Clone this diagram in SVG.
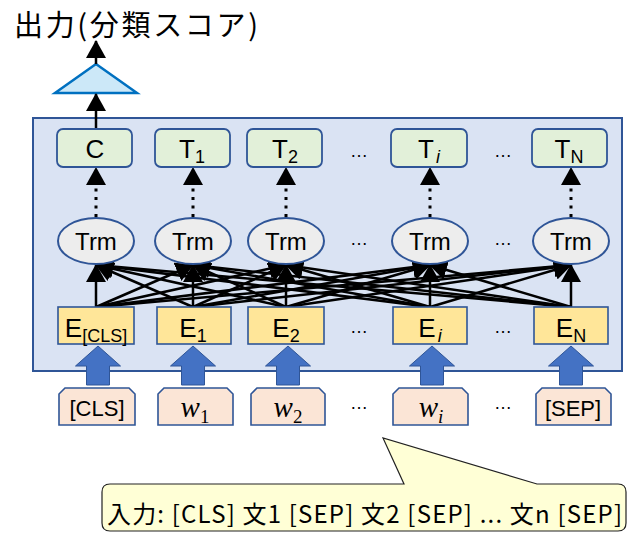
<svg xmlns="http://www.w3.org/2000/svg" width="631" height="535" viewBox="0 0 631 535">
<style>
.lbl{font-family:"Liberation Sans",Arial,sans-serif;fill:#000;text-anchor:middle}
.jp{font-family:"Noto Sans CJK JP","Noto Sans",sans-serif;fill:#000}
.g{fill:#e2f0d9;stroke:#2f5597;stroke-width:1.8}
.t{fill:#ededed;stroke:#2f5597;stroke-width:2}
.e{fill:#ffe699;stroke:#2f5597;stroke-width:1.6}
.w{fill:#fbe5d6;stroke:#2f5597;stroke-width:1.6}
.ba{fill:#4472c4;stroke:#2f5597;stroke-width:1}
.c{stroke:#000;stroke-width:2.5;fill:none;marker-end:url(#ah)}
.d{stroke:#000;stroke-width:3;fill:none;stroke-dasharray:3 5.5;marker-end:url(#ah)}
.dots{font-family:"Liberation Sans",Arial,sans-serif;font-size:18px;text-anchor:middle;fill:#000}
.wv{font-family:"Liberation Serif","Times New Roman",serif;font-style:italic;font-size:29px;text-anchor:middle;fill:#000}
</style>
<defs>
<marker id="ah" viewBox="0 0 18 20" markerWidth="18" markerHeight="20" refX="17" refY="10" orient="auto" markerUnits="userSpaceOnUse">
<path d="M0,0 L18,10 L0,20 z" fill="#000"/>
</marker>
</defs>

<text class="jp" x="14" y="36" font-size="29" textLength="244">出力(分類スコア)</text>

<g id="outer"><rect x="33" y="118" width="589" height="253" fill="#dae3f3" stroke="#2f5597" stroke-width="2"/></g>

<g id="classifier"><polygon points="96,64 55,93 137,93" fill="#cce8f8" stroke="#0070c0" stroke-width="2.5"/></g>

<g id="connectors">
<line class="c" x1="96" y1="129" x2="96" y2="94"/>
<line class="c" x1="96" y1="64" x2="96" y2="41"/>
<line class="d" x1="96" y1="217" x2="96" y2="168"/>
<line class="d" x1="193" y1="217" x2="193" y2="168"/>
<line class="d" x1="286" y1="217" x2="286" y2="168"/>
<line class="d" x1="430" y1="217" x2="430" y2="168"/>
<line class="d" x1="571" y1="217" x2="571" y2="168"/>

<line class="c" x1="96" y1="307" x2="96" y2="265"/>
<line class="c" x1="96" y1="307" x2="193" y2="265"/>
<line class="c" x1="96" y1="307" x2="286" y2="265"/>
<line class="c" x1="96" y1="307" x2="430" y2="265"/>
<line class="c" x1="96" y1="307" x2="571" y2="265"/>
<line class="c" x1="193" y1="307" x2="96" y2="265"/>
<line class="c" x1="193" y1="307" x2="193" y2="265"/>
<line class="c" x1="193" y1="307" x2="286" y2="265"/>
<line class="c" x1="193" y1="307" x2="430" y2="265"/>
<line class="c" x1="193" y1="307" x2="571" y2="265"/>
<line class="c" x1="286" y1="307" x2="96" y2="265"/>
<line class="c" x1="286" y1="307" x2="193" y2="265"/>
<line class="c" x1="286" y1="307" x2="286" y2="265"/>
<line class="c" x1="286" y1="307" x2="430" y2="265"/>
<line class="c" x1="286" y1="307" x2="571" y2="265"/>
<line class="c" x1="430" y1="307" x2="96" y2="265"/>
<line class="c" x1="430" y1="307" x2="193" y2="265"/>
<line class="c" x1="430" y1="307" x2="286" y2="265"/>
<line class="c" x1="430" y1="307" x2="430" y2="265"/>
<line class="c" x1="430" y1="307" x2="571" y2="265"/>
<line class="c" x1="571" y1="307" x2="96" y2="265"/>
<line class="c" x1="571" y1="307" x2="193" y2="265"/>
<line class="c" x1="571" y1="307" x2="286" y2="265"/>
<line class="c" x1="571" y1="307" x2="430" y2="265"/>
<line class="c" x1="571" y1="307" x2="571" y2="265"/>

<path class="ba" d="M86.5,385 V366 H75.5 L98,346 L120.5,366 H109.5 V385 Z"/>
<path class="ba" d="M181.5,385 V366 H170.5 L193,346 L215.5,366 H204.5 V385 Z"/>
<path class="ba" d="M276.5,385 V366 H265.5 L288,346 L310.5,366 H299.5 V385 Z"/>
<path class="ba" d="M420.5,385 V366 H409.5 L432,346 L454.5,366 H443.5 V385 Z"/>
<path class="ba" d="M559.5,385 V366 H548.5 L571,346 L593.5,366 H582.5 V385 Z"/>
</g>

<g id="C"><rect class="g" x="57" y="129" width="75" height="38" rx="6"/><text class="lbl" x="95" y="158" font-size="26">C</text></g>
<g id="T1"><rect class="g" x="155" y="129" width="75" height="38" rx="6"/><text class="lbl" x="192" y="158" font-size="26">T<tspan font-size="18" dy="5">1</tspan></text></g>
<g id="T2"><rect class="g" x="247" y="129" width="75" height="38" rx="6"/><text class="lbl" x="285" y="158" font-size="26">T<tspan font-size="18" dy="5">2</tspan></text></g>
<g id="Ti"><rect class="g" x="391" y="129" width="76" height="38" rx="6"/><text class="lbl" x="429" y="158" font-size="26">T<tspan font-size="18" dy="5" dx="2" font-style="italic">i</tspan></text></g>
<g id="TN"><rect class="g" x="532" y="129" width="75" height="38" rx="6"/><text class="lbl" x="569" y="158" font-size="26">T<tspan font-size="18" dy="5">N</tspan></text></g>

<g id="Trm0"><ellipse class="t" cx="96" cy="241" rx="38" ry="23"/><text class="lbl" x="96" y="250" font-size="24">Trm</text></g>
<g id="Trm1"><ellipse class="t" cx="193" cy="241" rx="38" ry="23"/><text class="lbl" x="193" y="250" font-size="24">Trm</text></g>
<g id="Trm2"><ellipse class="t" cx="286" cy="241" rx="38" ry="23"/><text class="lbl" x="286" y="250" font-size="24">Trm</text></g>
<g id="Trmi"><ellipse class="t" cx="430" cy="241" rx="38" ry="23"/><text class="lbl" x="430" y="250" font-size="24">Trm</text></g>
<g id="TrmN"><ellipse class="t" cx="571" cy="241" rx="38" ry="23"/><text class="lbl" x="571" y="250" font-size="24">Trm</text></g>

<g id="ECLS"><rect class="e" x="58" y="307" width="76" height="37"/><text class="lbl" x="96" y="337" font-size="26">E<tspan font-size="18" dy="5">[CLS]</tspan></text></g>
<g id="E1"><rect class="e" x="157" y="307" width="74" height="37"/><text class="lbl" x="193" y="337" font-size="26">E<tspan font-size="18" dy="5">1</tspan></text></g>
<g id="E2"><rect class="e" x="248" y="307" width="76" height="37"/><text class="lbl" x="286" y="337" font-size="26">E<tspan font-size="18" dy="5">2</tspan></text></g>
<g id="Ei"><rect class="e" x="393" y="307" width="74" height="37"/><text class="lbl" x="430" y="337" font-size="26">E<tspan font-size="18" dy="5" dx="2" font-style="italic">i</tspan></text></g>
<g id="EN"><rect class="e" x="534" y="307" width="74" height="37"/><text class="lbl" x="571" y="337" font-size="26">E<tspan font-size="18" dy="5">N</tspan></text></g>

<g id="inCLS"><path class="w" d="M65,388 H129 L135,394 V425 H59 V394 Z"/><text class="lbl" x="97" y="416" font-size="22">[CLS]</text></g>
<g id="inw1"><path class="w" d="M164,388 H227 L233,394 V425 H158 V394 Z"/><text class="wv" x="195" y="417">w<tspan font-size="19" dy="6" font-style="normal">1</tspan></text></g>
<g id="inw2"><path class="w" d="M257,388 H319 L325,394 V425 H251 V394 Z"/><text class="wv" x="288" y="417">w<tspan font-size="19" dy="6" font-style="normal">2</tspan></text></g>
<g id="inwi"><path class="w" d="M399,388 H462 L468,394 V425 H393 V394 Z"/><text class="wv" x="431" y="417">w<tspan font-size="19" dy="6">i</tspan></text></g>
<g id="inSEP"><path class="w" d="M542,388 H605 L611,394 V425 H536 V394 Z"/><text class="lbl" x="573" y="416" font-size="22">[SEP]</text></g>

<g id="ellipses">
<text class="dots" x="359" y="157">…</text><text class="dots" x="503" y="157">…</text>
<text class="dots" x="359" y="245">…</text><text class="dots" x="503" y="245">…</text>
<text class="dots" x="359" y="333">…</text><text class="dots" x="503" y="333">…</text>
<text class="dots" x="359" y="409">…</text><text class="dots" x="503" y="409">…</text>
</g>

<g id="callout">
<path d="M110,484 H404 L383,438 L537,484 H618 Q626,484 626,492 V523 Q626,531 618,531 H110 Q102,531 102,523 V492 Q102,484 110,484 Z" fill="#ffffd6" stroke="#222" stroke-width="1.2"/>
<text class="jp" x="107" y="523" font-size="24" textLength="515">入力: [CLS] 文1 [SEP] 文2 [SEP] ... 文n [SEP]</text>
</g>
</svg>
